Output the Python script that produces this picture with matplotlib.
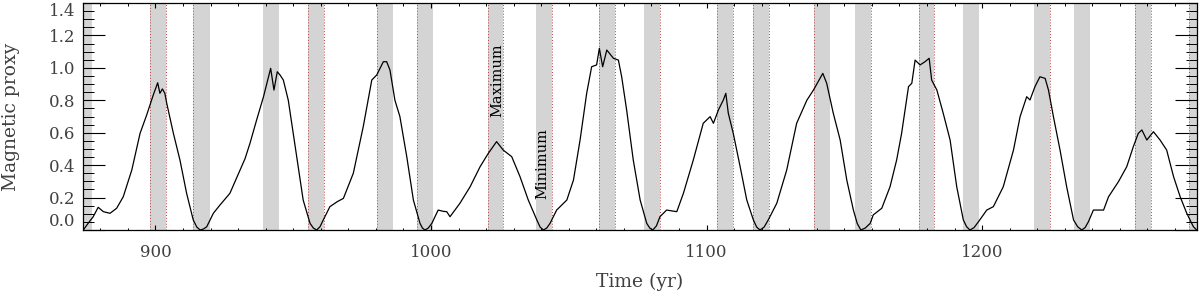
import numpy as np
import matplotlib
matplotlib.use("Agg")
import matplotlib.pyplot as plt
from matplotlib.ticker import MultipleLocator

# Magnetic proxy series
years = [873.8, 875.5, 877.4, 879.2, 881.1, 883.5, 885.9, 888.3, 891.4, 894.4,
         896.8, 899.2, 900.8, 901.6, 902.5, 903.4, 904.1, 906.5, 908.9, 911.3,
         913.7, 915.0, 916.2, 917.4, 918.6, 921.0, 923.4, 927.0, 930.7, 932.5,
         934.3, 936.7, 939.2, 940.9, 941.8, 943.0, 944.2, 945.2, 946.4, 948.2,
         950.0, 951.8, 953.6, 956.1, 957.3, 958.5, 959.7, 960.9, 963.3, 966.0,
         968.2, 971.8, 975.4, 978.5, 980.3, 982.7, 983.9, 985.1, 986.9, 988.7,
         991.2, 993.6, 996.0, 996.9, 997.8, 999.0, 1000.3, 1002.6, 1004.5, 1005.7,
         1006.9, 1010.5, 1014.2, 1017.8, 1020.8, 1023.8, 1026.2, 1029.3, 1032.3, 1035.3,
         1038.4, 1039.6, 1040.8, 1042.0, 1043.2, 1045.6, 1049.3, 1051.7, 1054.1, 1056.5,
         1058.3, 1060.1, 1061.1, 1062.3, 1063.8, 1066.2, 1068.0, 1069.2, 1071.0, 1073.4,
         1075.9, 1078.3, 1079.4, 1080.5, 1081.8, 1083.1, 1085.5, 1089.2, 1091.6, 1095.2,
         1098.8, 1101.3, 1102.5, 1104.3, 1106.1, 1107.0, 1107.9, 1109.7, 1112.2, 1114.6,
         1117.0, 1118.2, 1119.4, 1120.9, 1122.4, 1125.5, 1129.1, 1132.7, 1136.4, 1138.8,
         1142.2, 1143.6, 1146.0, 1148.5, 1150.9, 1153.3, 1154.7, 1156.0, 1157.6, 1159.4,
         1160.5, 1163.6, 1166.6, 1169.0, 1170.8, 1173.3, 1174.5, 1175.7, 1177.5, 1179.3,
         1180.8, 1181.7, 1183.6, 1185.9, 1188.4, 1190.8, 1193.2, 1194.4, 1195.6, 1197.1,
         1198.7, 1201.7, 1204.1, 1207.7, 1211.4, 1213.8, 1216.2, 1217.4, 1219.2, 1221.0,
         1222.9, 1224.1, 1225.9, 1228.3, 1230.7, 1233.2, 1234.7, 1236.2, 1237.4, 1238.6,
         1240.4, 1244.1, 1245.9, 1249.5, 1252.5, 1254.9, 1256.7, 1258.0, 1259.8, 1262.2,
         1264.6, 1267.0, 1269.5, 1271.9, 1274.3, 1276.7, 1277.9]
proxy = [0.0, 0.04, 0.082, 0.14, 0.113, 0.103, 0.134, 0.205, 0.37, 0.596,
         0.709, 0.833, 0.908, 0.843, 0.87, 0.843, 0.78, 0.596, 0.43, 0.226,
         0.062, 0.018, 0.0, 0.006, 0.02, 0.103, 0.154, 0.226, 0.37, 0.44,
         0.535, 0.678, 0.822, 0.935, 0.997, 0.863, 0.976, 0.956, 0.925, 0.80,
         0.596, 0.39, 0.185, 0.041, 0.012, 0.0, 0.02, 0.062, 0.144, 0.175,
         0.195, 0.35, 0.637, 0.925, 0.956, 1.038, 1.038, 0.987, 0.80, 0.70,
         0.452, 0.185, 0.041, 0.012, 0.0, 0.012, 0.041, 0.123, 0.115, 0.113,
         0.082, 0.165, 0.267, 0.39, 0.473, 0.545, 0.493, 0.452, 0.329, 0.185,
         0.062, 0.018, 0.0, 0.012, 0.041, 0.123, 0.185, 0.308, 0.555, 0.843,
         1.007, 1.018, 1.12, 1.007, 1.11, 1.059, 1.048, 0.945, 0.74, 0.432,
         0.185, 0.041, 0.012, 0.0, 0.025, 0.082, 0.123, 0.113, 0.226, 0.432,
         0.658, 0.699, 0.658, 0.74, 0.802, 0.843, 0.72, 0.596, 0.39, 0.185,
         0.062, 0.018, 0.0, 0.018, 0.062, 0.165, 0.37, 0.658, 0.80, 0.863,
         0.966, 0.905, 0.72, 0.555, 0.308, 0.123, 0.04, 0.0, 0.012, 0.041,
         0.093, 0.134, 0.267, 0.432, 0.596, 0.884, 0.905, 1.048, 1.018, 1.038,
         1.059, 0.925, 0.863, 0.72, 0.555, 0.267, 0.062, 0.02, 0.0, 0.015,
         0.051, 0.123, 0.144, 0.267, 0.493, 0.699, 0.822, 0.802, 0.884, 0.945,
         0.935, 0.863, 0.699, 0.493, 0.267, 0.062, 0.02, 0.0, 0.015, 0.051,
         0.123, 0.123, 0.205, 0.298, 0.39, 0.514, 0.596, 0.617, 0.555, 0.606,
         0.555, 0.493, 0.329, 0.205, 0.103, 0.02, 0.0]

# shaded maximum / minimum windows (start, end in years)
band_start = [873.8, 898.0, 913.6, 939.0, 955.4, 980.4, 994.9, 1020.7, 1038.1, 1061.0,
              1077.3, 1103.8, 1116.9, 1139.0, 1153.9, 1177.1, 1193.1, 1218.9, 1233.4, 1255.5,
              1275.1]
band_end = [876.9, 903.8, 919.8, 944.8, 961.2, 986.2, 1000.7, 1026.1, 1043.9, 1066.8,
            1083.1, 1109.6, 1122.7, 1144.8, 1159.7, 1182.6, 1198.9, 1224.7, 1239.2, 1261.3,
            1278.0]

# red dotted markers
dotted_years = [898.0, 903.8, 913.6, 955.4, 961.2, 980.4, 994.9, 1020.7, 1026.1, 1043.9,
                1061.0, 1066.8, 1083.1, 1103.8, 1109.6, 1116.9, 1122.7, 1139.0, 1159.7,
                1177.1, 1182.6, 1224.7, 1255.5, 1261.3, 1275.1]

xticks = [900, 1000, 1100, 1200]
yticks = [0.0, 0.2, 0.4, 0.6, 0.8, 1.0, 1.2, 1.4]

plt.rcParams['font.family'] = ['DejaVu Serif']
txtcol = '#404040'

fig = plt.figure(figsize=(12, 2.96), dpi=100)
ax = fig.add_axes([83.3 / 1200, 66 / 296, 1113.4 / 1200, 227 / 296])

for s, e in zip(band_start, band_end):
    ax.axvspan(s, e, color='#d4d4d4', lw=0, zorder=1)
for xv in dotted_years:
    ax.axvline(xv, color='#b84040', ls=(0, (1, 2)), lw=0.7, zorder=2)

ax.plot(years, proxy, color='black', lw=0.9, zorder=3)

ax.set_xlim(873.8, 1277.9)
ax.set_ylim(0, 1.4)

ax.set_xticks(xticks)
ax.set_xticklabels([str(v) for v in xticks])
ax.xaxis.set_minor_locator(MultipleLocator(10))
ax.set_yticks(yticks)
ax.set_yticklabels(['%.1f' % v for v in yticks])
ax.yaxis.set_minor_locator(MultipleLocator(0.05))

ax.tick_params(axis='x', which='major', direction='in', length=3.3, width=0.8,
               top=True, pad=10, labelsize=12, labelcolor=txtcol)
ax.tick_params(axis='x', which='minor', direction='in', length=1.8, width=0.7, top=True)
ax.tick_params(axis='y', which='major', direction='in', length=16, width=0.8,
               right=True, pad=6, labelsize=12, labelcolor=txtcol)
ax.tick_params(axis='y', which='minor', direction='in', length=8, width=0.7, right=True)

# end labels pushed inside the axis range
yt = ax.yaxis.get_major_ticks()
yt[0].label1.set_verticalalignment('bottom')
yt[-1].label1.set_verticalalignment('top')

for sp in ax.spines.values():
    sp.set_linewidth(0.9)

ax.set_xlabel('Time (yr)', fontsize=13.5, color=txtcol)
ax.set_ylabel('Magnetic proxy', fontsize=13.5, color=txtcol,
              ha='center', va='center')
ax.xaxis.set_label_coords(0.5, -0.19)
ax.yaxis.set_label_coords(-0.065, 0.5)

ax.text(1024, 0.925, 'Maximum', rotation=90, ha='center', va='center',
        fontsize=10.5, color='black', zorder=4)
ax.text(1040.3, 0.41, 'Minimum', rotation=90, ha='center', va='center',
        fontsize=10.5, color='black', zorder=4)

fig.savefig('out.png', dpi=100)
